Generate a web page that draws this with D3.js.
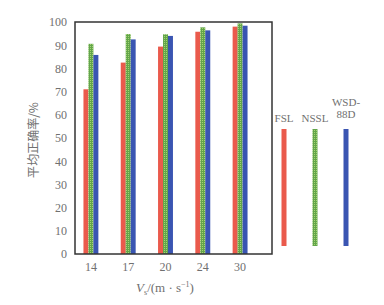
<!DOCTYPE html>
<html><head><meta charset="utf-8">
<script src="https://cdn.jsdelivr.net/npm/d3@7"></script>
<style>body{margin:0;background:#fff}svg{display:block}</style>
</head><body><svg id="c" width="384" height="305"></svg>
<script>
const categories = ["14","17","20","24","30"];
const seriesNames = ["FSL","NSSL","WSD-88D"];
const fsl  = [71, 82.5, 89.4, 95.8, 98];
const nssl = [90.6, 94.8, 94.7, 97.7, 99.4];
const wsd  = [85.8, 92.5, 94, 96.4, 98.4];
const yTicks = [0,10,20,30,40,50,60,70,80,90,100];
const colors = ["#ea5a4c","#67a94c","#3a55b2"];
const series = [fsl, nssl, wsd];
const textColor = "#707070";

const svg = d3.select("#c");
const M = {l:75, t:22, r:272, b:254};
const x = d3.scaleBand().domain(categories).range([M.l+1, M.r-17]).paddingInner(0.6).paddingOuter(0.2);
const xs = d3.scaleBand().domain(seriesNames).range([0, x.bandwidth()]);
const y = d3.scaleLinear().domain([0,100]).range([M.b, M.t]);

const defs = svg.append("defs");
const pat = defs.append("pattern").attr("id","gp").attr("width",2).attr("height",2).attr("patternUnits","userSpaceOnUse");
pat.append("rect").attr("width",2).attr("height",2).attr("fill","#62a54a");
pat.append("rect").attr("width",1).attr("height",1).attr("fill","#a6d472");
const fills = [colors[0], "url(#gp)", colors[2]];

categories.forEach((c,i)=>{
  series.forEach((s,j)=>{
    svg.append("rect").attr("x", x(c)+xs(seriesNames[j])).attr("width", xs.bandwidth())
      .attr("y", y(s[i])).attr("height", y(0)-y(s[i])).attr("fill", fills[j]);
  });
});

// frame
svg.append("rect").attr("x",M.l).attr("y",M.t).attr("width",M.r-M.l).attr("height",M.b-M.t)
  .attr("fill","none").attr("stroke","#333").attr("stroke-width",1.5);

const yAxis = svg.append("g").attr("transform",`translate(${M.l},0)`)
  .call(d3.axisLeft(y).tickValues(yTicks).tickSize(0).tickPadding(8));
yAxis.select(".domain").remove();
yAxis.selectAll("text").attr("font-family","Liberation Serif, serif").attr("font-size",12).attr("fill",textColor);

const xAxis = svg.append("g").attr("transform",`translate(0,${M.b})`)
  .call(d3.axisBottom(x).tickSize(0).tickPadding(8));
xAxis.select(".domain").remove();
xAxis.selectAll("text").attr("font-family","Liberation Serif, serif").attr("font-size",12).attr("fill",textColor);

svg.append("text").attr("transform","translate(38,140) rotate(-90)").attr("text-anchor","middle")
  .attr("font-family","Noto Sans CJK SC, sans-serif").attr("font-size",12).attr("fill",textColor).text("平均正确率/%");

const xl = svg.append("text").attr("x",165).attr("y",292).attr("text-anchor","middle")
  .attr("font-family","Liberation Serif, serif").attr("font-size",13).attr("fill",textColor);
xl.append("tspan").attr("font-style","italic").text("V");
xl.append("tspan").attr("font-size",8).attr("dy",3).text("s");
xl.append("tspan").attr("dy",-3).text("/(m · s");
xl.append("tspan").attr("font-size",8).attr("dy",-5).text("−1");
xl.append("tspan").attr("dy",5).text(")");

// legend
const lx = d3.scalePoint().domain(seriesNames).range([284, 346]);
seriesNames.forEach((n,j)=>{
  svg.append("rect").attr("x", lx(n)-2.5).attr("width",5).attr("y",129).attr("height",117).attr("fill",fills[j]);
  const t = svg.append("text").attr("x", lx(n)).attr("text-anchor","middle")
    .attr("font-family","Liberation Serif, serif").attr("font-size",11).attr("fill",textColor);
  if (n === "WSD-88D") {
    t.append("tspan").attr("x",lx(n)).attr("y",106).text("WSD-");
    t.append("tspan").attr("x",lx(n)).attr("y",118).text("88D");
  } else {
    t.attr("y",122).text(n);
  }
});
</script></body></html>
